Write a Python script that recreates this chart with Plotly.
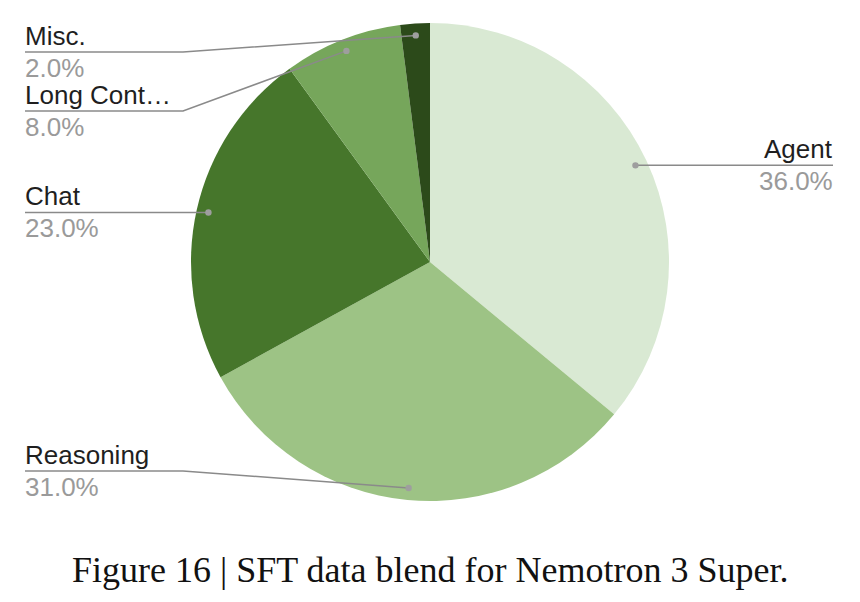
import math
import plotly.graph_objects as go

categories = ["Agent", "Reasoning", "Chat", "Long Context", "Misc."]
display_labels = ["Agent", "Reasoning", "Chat", "Long Cont…", "Misc."]
values = [36.0, 31.0, 23.0, 8.0, 2.0]
colors = ["#d9e9d3", "#9dc385", "#46762b", "#76a65b", "#2c4a1a"]
caption = "Figure 16 | SFT data blend for Nemotron 3 Super."

W, H = 860, 602
CX, CY, R = 430, 262, 239
DOT_R = 0.95 * R

# label layout: side, label line y (pixel), elbow x
label_layout = {
    "Agent": ("right", None, None),
    "Reasoning": ("left", 471, 183),
    "Chat": ("left", None, None),
    "Long Context": ("left", 111, 183),
    "Misc.": ("left", 52, 183),
}
LEFT_X, RIGHT_X = 25, 833
FONT = "Liberation Sans, Arial"
FS = 26

fig = go.Figure()
fig.add_trace(go.Pie(
    labels=categories, values=values, sort=False, direction="clockwise",
    rotation=0, marker=dict(colors=colors, line=dict(width=0)),
    textinfo="none", hoverinfo="label+percent", showlegend=False,
    domain=dict(x=[(CX - R) / W, (CX + R) / W],
                y=[(H - CY - R) / H, (H - CY + R) / H]),
))
fig.add_trace(go.Scatter(x=[0], y=[0], mode="markers", marker=dict(opacity=0),
                         hoverinfo="skip", showlegend=False))

total = sum(values)
cum = 0.0
annotations = []
shapes = []
for cat, lab, v in zip(categories, display_labels, values):
    mid = (cum + v / 2) / total * 2 * math.pi
    cum += v
    dx = CX + DOT_R * math.sin(mid)
    dy = CY - DOT_R * math.cos(mid)
    side, ly, ex = label_layout[cat]
    if ly is None:
        ly = dy
    if side == "right":
        pts = [(dx, dy), (RIGHT_X, ly)]
        tx, anchor, xs = RIGHT_X, "right", 2
    else:
        if ex is None:
            pts = [(dx, dy), (LEFT_X, ly)]
        else:
            pts = [(dx, dy), (ex, ly), (LEFT_X, ly)]
        tx, anchor, xs = LEFT_X, "left", -2
    path = "M " + " L ".join(f"{px:.2f},{py:.2f}" for px, py in pts)
    shapes.append(dict(type="path", path=path, xref="x", yref="y", layer="above",
                       line=dict(color="#8a8a8a", width=1.5)))
    shapes.append(dict(type="circle", xref="x", yref="y", layer="above",
                       x0=dx - 3.2, x1=dx + 3.2, y0=dy - 3.2, y1=dy + 3.2,
                       fillcolor="#9e9e9e", line=dict(width=0)))
    annotations.append(dict(x=tx, y=ly + 1, xref="x", yref="y", text=lab,
                            showarrow=False, xanchor=anchor, yanchor="bottom", xshift=xs,
                            font=dict(family=FONT, size=FS, color="#1f1f1f")))
    annotations.append(dict(x=tx, y=ly - 1, xref="x", yref="y", text=f"{v:.1f}%",
                            showarrow=False, xanchor=anchor, yanchor="top", xshift=xs,
                            font=dict(family=FONT, size=FS, color="#9a9a9a")))

annotations.append(dict(x=W / 2, y=570, xref="x", yref="y", text=caption,
                        showarrow=False, xanchor="center", yanchor="middle",
                        font=dict(family="Liberation Serif, DejaVu Serif, serif", size=36, color="#111111")))

fig.update_layout(
    width=W, height=H, margin=dict(l=0, r=0, t=0, b=0),
    paper_bgcolor="white", plot_bgcolor="rgba(0,0,0,0)",
    xaxis=dict(range=[0, W], visible=False, fixedrange=True),
    yaxis=dict(range=[H, 0], visible=False, fixedrange=True),
    annotations=annotations, shapes=shapes,
)
fig.write_html("out.html")
